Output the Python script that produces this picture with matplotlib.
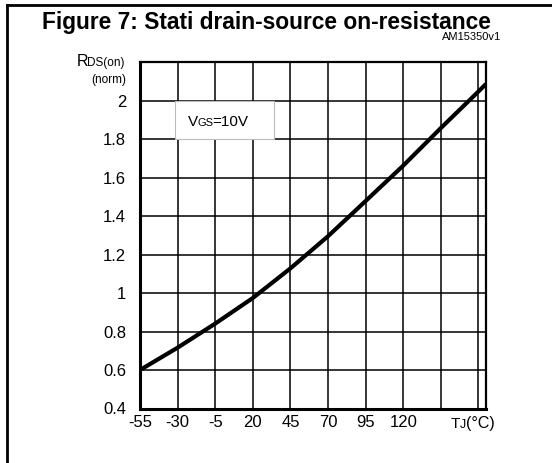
import matplotlib
matplotlib.use('Agg')
import matplotlib.pyplot as plt
from matplotlib.lines import Line2D
from matplotlib.patches import Rectangle
from matplotlib import font_manager

# --- DATA ---
TEMP_C = [-55, -30, -5, 20, 45, 70, 95, 120, 145, 170, 175]
RDS_NORM = [0.60, 0.716, 0.841, 0.974, 1.128, 1.295, 1.478, 1.662, 1.857, 2.047, 2.086]

X_TICKS = [-55, -30, -5, 20, 45, 70, 95, 120]
X_TICK_LABELS = ['-55', '-30', '-5', '20', '45', '70', '95', '120']
X_GRID = [-30, -5, 20, 45, 70, 95, 120, 145, 170]
Y_TICKS = [0.4, 0.6, 0.8, 1.0, 1.2, 1.4, 1.6, 1.8, 2.0]
Y_TICK_LABELS = ['0.4', '0.6', '0.8', '1', '1.2', '1.4', '1.6', '1.8', '2']
Y_GRID = [0.6, 0.8, 1.0, 1.2, 1.4, 1.6, 1.8, 2.0]

TITLE = 'Figure 7: Stati drain-source on-resistance'
CODE = 'AM15350v1'

# --- FONTS ---
installed = {f.name for f in font_manager.fontManager.ttflist}
NARROW = 'Liberation Sans Narrow' if 'Liberation Sans Narrow' in installed else 'Liberation Sans'
plt.rcParams['font.family'] = [NARROW, 'DejaVu Sans']

W, H = 552, 463
fig = plt.figure(figsize=(W / 100, H / 100), dpi=100)


def px(x, y):
    # pixel coords (top-left origin) -> figure fraction
    return x / W, 1 - y / H


ax = fig.add_axes([140 / W, 1 - 408.5 / H, (486 - 140) / W, (408.5 - 62) / H])
ax.set_xlim(-55, 175)
ax.set_ylim(0.4, 2.2)

# grid
for gx in X_GRID:
    ax.axvline(gx, color='black', linewidth=1.1, zorder=1)
for gy in Y_GRID:
    ax.axhline(gy, color='black', linewidth=1.1, zorder=1)

# V_GS label box
ax.add_patch(Rectangle((-32, 1.8), 66, 0.2, facecolor='white', edgecolor='#bbbbbb',
                       linewidth=0.8, zorder=2))

ax.plot(TEMP_C, RDS_NORM, color='black', linewidth=3.0, solid_capstyle='butt', zorder=3)

ax.set_xticks(X_TICKS)
ax.set_xticklabels(X_TICK_LABELS, fontsize=12)
ax.set_yticks(Y_TICKS)
ax.set_yticklabels(Y_TICK_LABELS, fontsize=12)
ax.tick_params(length=0)
ax.tick_params(axis='y', pad=10)
ax.tick_params(axis='x', pad=5)

ax.spines['left'].set_linewidth(2.2)
ax.spines['bottom'].set_linewidth(2.2)
ax.spines['top'].set_linewidth(1.6)
ax.spines['right'].set_linewidth(1.6)

# text pieces
fig.text(*px(266, 22), TITLE, ha='center', va='center', fontsize=16.4,
         fontweight='bold', family=['Liberation Sans', 'DejaVu Sans'])
fig.text(*px(501, 37), CODE, ha='right', va='center', fontsize=8)

fig.text(*px(77, 66), 'R', ha='left', va='baseline', fontsize=11.5)
fig.text(*px(87, 66), 'DS(on)', ha='left', va='baseline', fontsize=8.5)
fig.text(*px(126, 80), '(norm)', ha='right', va='center', fontsize=8.5)

fig.text(*px(188, 126), 'V', ha='left', va='baseline', fontsize=11)
fig.text(*px(197, 126), 'GS', ha='left', va='baseline', fontsize=8)
fig.text(*px(212, 126), '=10V', ha='left', va='baseline', fontsize=11)

fig.text(*px(451, 428), 'T', ha='left', va='baseline', fontsize=11)
fig.text(*px(460, 428), 'J', ha='left', va='baseline', fontsize=9)
fig.text(*px(466, 428), '(\u00b0C)', ha='left', va='baseline', fontsize=11.5)

# outer frame (left and top edges of the cell)
fig.add_artist(Line2D([7 / W, 7 / W], [0, 1 - 5 / H], color='black', linewidth=2))
fig.add_artist(Line2D([7 / W, 1], [1 - 5 / H, 1 - 5 / H], color='black', linewidth=2))

fig.savefig('out.png', dpi=100)
